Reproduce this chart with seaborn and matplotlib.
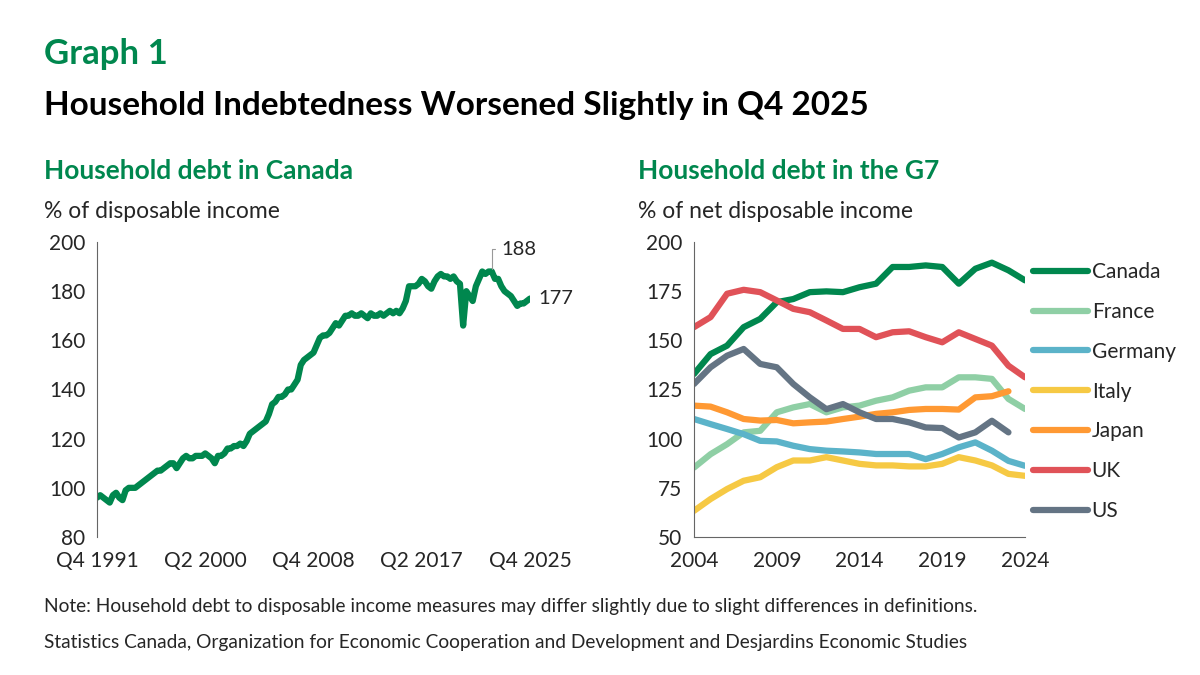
import numpy as np
import pandas as pd
import seaborn as sns
from matplotlib import pyplot as plt

sns.set_style('white')
plt.rcParams['font.family'] = 'Lato'

# ---- data: household debt in Canada, quarterly Q4 1991 .. Q4 2025 ----
canada_q = [96,
            97, 96, 95, 94,
            97, 98, 96, 95,
            99, 100, 100, 100,
            101, 102, 103, 104,
            105, 106, 107, 107,
            108, 109, 110, 110,
            108, 110, 112, 113,
            112, 112, 113, 113,
            113, 114, 113, 112,
            110, 113, 113, 114,
            116, 116, 117, 117,
            118, 117, 119, 122,
            123, 124, 125, 126,
            127, 130, 134, 135,
            137, 137, 138, 140,
            140, 142, 144, 150,
            152, 153, 154, 155,
            158, 161, 162, 162,
            163, 165, 167, 166,
            168, 170, 170, 171,
            170, 170, 171, 170,
            169, 171, 170, 170,
            171, 170, 171, 172,
            171, 172, 171, 173,
            176, 182, 182, 182,
            183, 185, 184, 182,
            181, 184, 186, 187,
            186, 186, 185, 186,
            184, 183, 166, 180,
            178, 176, 182, 185,
            188, 187, 188, 188,
            185, 185, 182, 180,
            179, 178, 176, 174,
            175, 175, 176, 177]
left_ticks = ['Q4 1991', 'Q2 2000', 'Q4 2008', 'Q2 2017', 'Q4 2025']

# ---- data: household debt in the G7, annual ----
years = list(range(2004, 2025))
g7 = {
    'Canada': [132.9, 143, 147.3, 156.7, 160.9, 169.4, 171, 174.5, 174.9, 174.5, 177,
               178.8, 187.3, 187.3, 188.1, 187.3, 178.8, 186.4, 189.5, 185.6, 180.5],
    'France': [85.3, 92.1, 97.2, 103.2, 104, 113.4, 115.9, 117.6, 113.4, 115.9, 116.8,
               119.3, 121, 124.4, 126.1, 126.1, 131.2, 131.2, 130.4, 120.2, 115.1],
    'Germany': [110, 107.4, 104.9, 102.3, 98.9, 98.6, 96.4, 94.7, 93.9, 93.5, 93,
                92.2, 92.2, 92.2, 89.6, 92.2, 95.6, 98.1, 93.9, 88.7, 86.2],
    'Italy': [63.3, 69.3, 74.4, 78.6, 80.4, 85.5, 88.9, 88.9, 90.6, 88.9, 87.2,
              86.4, 86.4, 85.9, 85.9, 87.2, 90.6, 88.9, 86.4, 82.1, 81.1],
    'Japan': [116.8, 116.3, 113.4, 110, 109.2, 109.5, 107.8, 108.3, 108.7, 110, 111.2,
              112.6, 113.4, 114.6, 115.1, 115.1, 114.8, 121, 121.6, 124.1, None],
    'UK': [156.7, 161.8, 173.7, 175.7, 174.5, 170.3, 166, 164.3, 160.1, 155.8, 155.8,
           151.6, 154.1, 154.6, 151.6, 149, 154.1, 150.7, 147.3, 137.1, 131.2],
    'US': [127.8, 136.3, 142.2, 145.6, 138, 136.3, 127.8, 121, 115, 117.6, 113.4,
           110, 110, 108.3, 105.7, 105.4, 100.6, 103.2, 109.1, 103.2, None],
}
colors = {'Canada': '#00874E', 'France': '#8FCFA5', 'Germany': '#5BB3C9',
          'Italy': '#F6C944', 'Japan': '#FF9933', 'UK': '#E05258', 'US': '#647484'}

GREEN = '#00874E'
fig = plt.figure(figsize=(12, 6.75), dpi=100)

fig.text(0.037, 0.905, 'Graph 1', fontsize=25, fontweight='bold', color=GREEN)
fig.text(0.037, 0.83, 'Household Indebtedness Worsened Slightly in Q4 2025',
         fontsize=24, fontweight='bold', color='black')
fig.text(0.037, 0.735, 'Household debt in Canada', fontsize=19, fontweight='bold', color=GREEN)
fig.text(0.037, 0.677, '% of disposable income', fontsize=16.5)
fig.text(0.532, 0.735, 'Household debt in the G7', fontsize=19, fontweight='bold', color=GREEN)
fig.text(0.532, 0.677, '% of net disposable income', fontsize=16.5)
fig.text(0.037, 0.093, 'Note: Household debt to disposable income measures may differ slightly '
         'due to slight differences in definitions.', fontsize=13.8)
fig.text(0.037, 0.04, 'Statistics Canada, Organization for Economic Cooperation and Development '
         'and Desjardins Economic Studies', fontsize=13.8)

# ---- left panel ----
ax1 = fig.add_axes([97 / 1200, 1 - 537 / 675, 433 / 1200, 295 / 675])
df1 = pd.DataFrame({'q': np.arange(len(canada_q)), 'val': canada_q})
sns.lineplot(data=df1, x='q', y='val', ax=ax1, color=GREEN, linewidth=4.5)
ax1.set_ylim(80, 200)
ax1.set_xlim(0, len(canada_q) - 1)
ax1.set_xticks(np.linspace(0, len(canada_q) - 1, len(left_ticks)))
ax1.set_xticklabels(left_ticks)
ax1.set_yticks(range(80, 201, 20))
ax1.set_xlabel('')
ax1.set_ylabel('')
for s in ['top', 'right', 'bottom']:
    ax1.spines[s].set_visible(False)
ax1.spines['left'].set_color('#666666')
ax1.tick_params(axis='y', direction='out', length=5, color='#666666', labelsize=15)
ax1.tick_params(axis='x', length=0, labelsize=15, pad=10)
peak_i = len(canada_q) - 1 - canada_q[::-1].index(max(canada_q))
ax1.annotate(f'{max(canada_q)}', xy=(peak_i, max(canada_q)), xytext=(peak_i + 3, 197),
             fontsize=14.5, va='center',
             arrowprops=dict(arrowstyle='-', color='#999999', lw=0.8,
                             connectionstyle='angle,angleA=0,angleB=90'))
ax1.text(len(canada_q) + 1.5, canada_q[-1], f'{canada_q[-1]}', fontsize=14.5, va='center',
         clip_on=False)

# ---- right panel ----
ax2 = fig.add_axes([694 / 1200, 1 - 537 / 675, 331 / 1200, 295 / 675])
for name, vals in g7.items():
    sns.lineplot(x=years, y=vals, ax=ax2, color=colors[name], linewidth=4.5, label=name)
ax2.set_ylim(50, 200)
ax2.set_xlim(2004, 2024)
ax2.set_xticks([2004, 2009, 2014, 2019, 2024])
ax2.set_yticks(range(50, 201, 25))
for s in ['top', 'right']:
    ax2.spines[s].set_visible(False)
ax2.spines['left'].set_color('#666666')
ax2.spines['bottom'].set_color('#666666')
ax2.tick_params(axis='y', direction='out', length=5, color='#666666', labelsize=15)
ax2.tick_params(axis='x', length=0, labelsize=15, pad=10)
ax2.legend(loc='upper left', bbox_to_anchor=(1.0, 0.96), frameon=False, fontsize=15,
           handlelength=2.6, labelspacing=0.95, handletextpad=0.2, borderaxespad=0)

plt.savefig('out.png', dpi=100)
